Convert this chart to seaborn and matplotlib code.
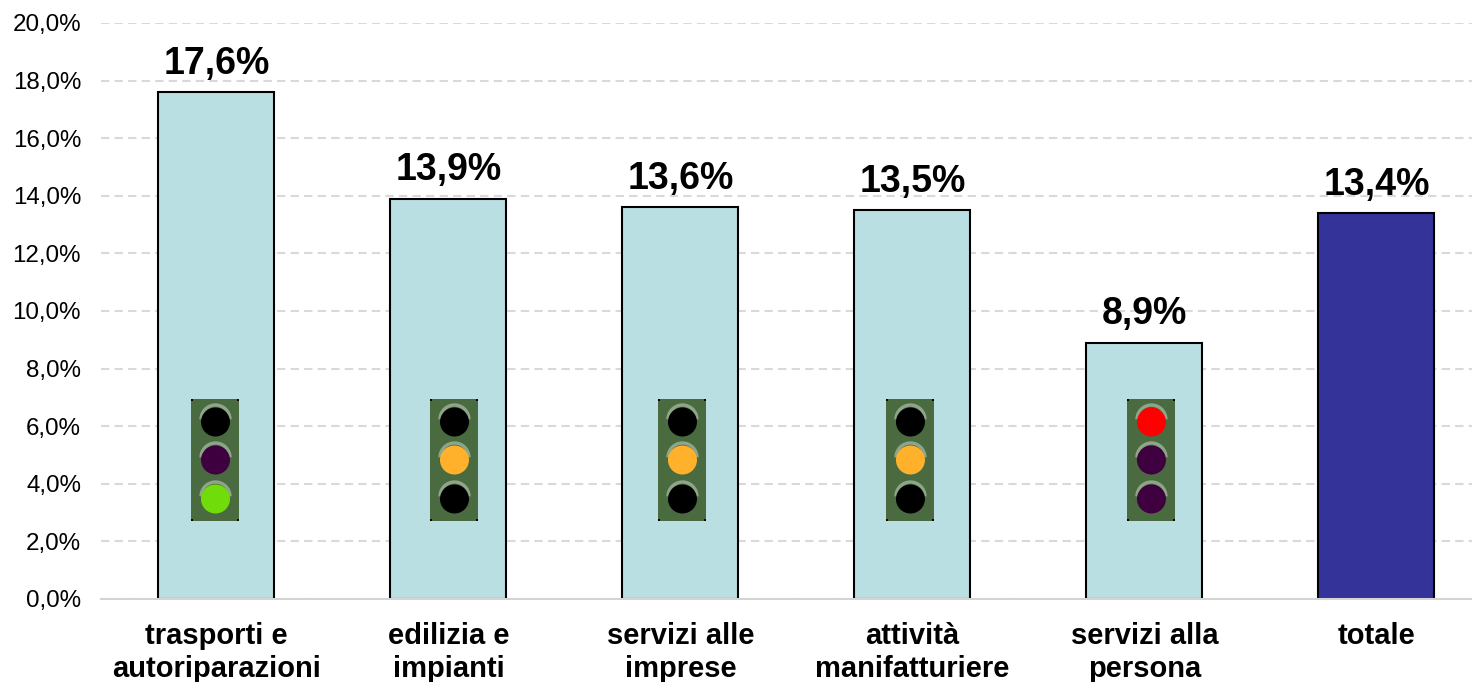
import pandas as pd
import matplotlib.pyplot as plt
import seaborn as sns
from matplotlib.patches import Rectangle, Ellipse, Arc

settori = ['trasporti e\nautoriparazioni', 'edilizia e\nimpianti', 'servizi alle\nimprese',
           'attività\nmanifatturiere', 'servizi alla\npersona', 'totale']
valori = [17.6, 13.9, 13.6, 13.5, 8.9, 13.4]
semafori = ['verde', 'giallo', 'giallo', 'giallo', 'rosso']

y_ticks = [0, 2, 4, 6, 8, 10, 12, 14, 16, 18, 20]

sns.set_theme(style='white')
plt.rcParams['font.family'] = ['Liberation Sans', 'DejaVu Sans']

df = pd.DataFrame({'settore': settori, 'valore': valori})
colori = ['#B9DFE3'] * 5 + ['#333399']

fig = plt.figure(figsize=(14.72, 6.82), dpi=100)
ax = fig.add_axes([100.5 / 1472, 83 / 682, 1371.5 / 1472, 576 / 682])

sns.barplot(data=df, x='settore', y='valore', hue='settore', palette=colori, legend=False,
            width=0.5, edgecolor='black', linewidth=1.5, saturation=1, ax=ax, zorder=3)

ax.set_xlim(-0.5, 5.412)
ax.set_ylim(0, 20)
ax.set_xlabel('')
ax.set_ylabel('')
ax.set_yticks(y_ticks)
ax.set_yticklabels([f'{v:.1f}%'.replace('.', ',') for v in y_ticks], fontsize=17.4, color='black')
ax.tick_params(axis='y', length=0, pad=14)
ax.tick_params(axis='x', length=0, pad=16.5)
for lab in ax.get_xticklabels():
    lab.set_fontsize(21)
    lab.set_fontweight('bold')
    lab.set_color('black')
    lab.set_linespacing(1.22)
    lab.set_verticalalignment('top')

ax.grid(axis='y', color='#D9D9D9', linestyle=(0, (4, 2.5)), linewidth=1.5, zorder=0)
ax.set_axisbelow(True)
sns.despine(ax=ax, left=True, right=True, top=True)
ax.spines['bottom'].set_color('#D4D4D4')
ax.spines['bottom'].set_linewidth(1.5)
ax.spines['bottom'].set_zorder(5)

#Etiquetas de valor sobre las barras
for i, v in enumerate(valori):
    ax.annotate(f'{v:.1f}%'.replace('.', ','), (i, v), xytext=(0, 7.5), textcoords='offset points',
                ha='center', va='bottom', fontsize=27, fontweight='bold', color='black', zorder=6)

#Semaforos
px_x = 1 / 232
px_y = 20 / 576
spostamento = [-1, 6, 2, -2, 7]
accesi = {'verde': 2, 'giallo': 1, 'rosso': 0}
colore_acceso = {'verde': '#70DD0A', 'giallo': '#FFB12B', 'rosso': '#FF0000'}
spento = ['#000000', '#3F0040', '#3F0040']
lamp_y = [(599 - 422) * px_y, (599 - 460) * px_y, (599 - 499) * px_y]

for i, stato in enumerate(semafori):
    cx = i + spostamento[i] * px_x
    ax.add_patch(Rectangle((cx - 24 * px_x, (599 - 521) * px_y), 48 * px_x, 122 * px_y,
                           facecolor='#4A6B40', edgecolor='none', zorder=4))
    # angoli neri del riquadro
    for dx in (-24, 22):
        for py in (521, 401):
            ax.add_patch(Rectangle((cx + dx * px_x, (599 - py) * px_y), 2 * px_x, 2 * px_y,
                                   facecolor='black', edgecolor='none', zorder=4.2))
    for j, ly in enumerate(lamp_y):
        # nel semaforo giallo/verde la lampada alta resta nera, in quello rosso le altre sono viola
        if j == accesi[stato]:
            col = colore_acceso[stato]
        elif stato == 'giallo':
            col = '#000000'
        else:
            col = spento[j]
        ax.add_patch(Arc((cx, ly + 2.5 * px_y), 29 * px_x, 29 * px_y, theta1=5, theta2=175,
                         color='#8FA58A', linewidth=2.4, zorder=4.5))
        ax.add_patch(Ellipse((cx, ly), 29 * px_x, 29 * px_y, facecolor=col, edgecolor='none', zorder=5))

plt.savefig('out.png', dpi=100)
